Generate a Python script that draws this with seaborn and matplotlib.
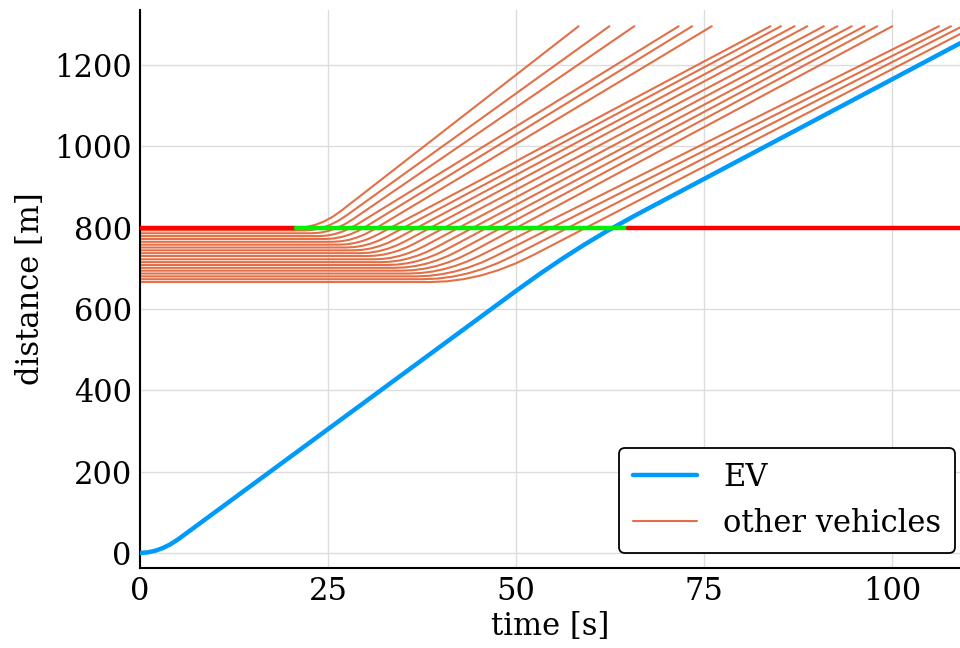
import numpy as np
import pandas as pd
import matplotlib
matplotlib.use("Agg")
import matplotlib.pyplot as plt
import seaborn as sns
from matplotlib.lines import Line2D

# ---------------- data ----------------
ev_time = [0, 1, 2, 3, 4, 5, 5.23, 50, 53, 56, 59, 62, 66, 109]
ev_dist = [0, 1.3, 5.2, 11.7, 20.8, 32.5, 35.6, 644.5, 684.2, 721.8, 757.3,
           790.6, 831.6, 1253.0]

veh_time = [
    [0, 21.00, 22.15, 23.30, 24.45, 25.60, 26.75, 58.3],
    [0, 21.92, 23.03, 24.14, 25.24, 26.35, 27.46, 62.4],
    [0, 22.84, 23.94, 25.04, 26.13, 27.23, 28.33, 65.7],
    [0, 23.76, 24.79, 25.82, 26.84, 27.87, 28.90, 71.6],
    [0, 24.68, 25.75, 26.82, 27.90, 28.97, 30.04, 73.4],
    [0, 25.61, 26.71, 27.81, 28.90, 30.00, 31.10, 76.0],
    [0, 26.53, 27.55, 28.56, 29.58, 30.59, 31.61, 83.8],
    [0, 27.45, 28.53, 29.60, 30.68, 31.75, 32.83, 85.2],
    [0, 28.37, 29.50, 30.64, 31.77, 32.91, 34.04, 87.0],
    [0, 29.29, 30.49, 31.69, 32.90, 34.10, 35.30, 88.7],
    [0, 30.21, 31.26, 32.32, 33.37, 34.42, 35.48, 36.53, 90.9],
    [0, 31.13, 32.26, 33.38, 34.51, 35.63, 36.76, 37.88, 92.7],
    [0, 32.05, 33.25, 34.46, 35.66, 36.86, 38.07, 39.27, 94.6],
    [0, 32.97, 34.27, 35.57, 36.86, 38.16, 39.46, 40.76, 96.3],
    [0, 33.89, 35.30, 36.71, 38.12, 39.52, 40.93, 42.34, 98.0],
    [0, 34.82, 36.35, 37.88, 39.42, 40.95, 42.48, 44.01, 100.0],
    [0, 35.74, 37.31, 38.87, 40.44, 42.01, 43.57, 45.14, 106.2],
    [0, 36.66, 38.41, 40.16, 41.91, 43.66, 45.41, 47.16, 107.8],
    [0, 37.58, 39.56, 41.55, 43.53, 45.51, 47.50, 49.48, 109.3],
    [0, 38.50, 40.78, 43.06, 45.35, 47.63, 49.91, 52.19, 111.0],
]
veh_dist = [
    [800, 800, 801.7, 806.6, 814.9, 826.4, 841.3, 1295],
    [793, 793, 794.5, 798.9, 806.3, 816.6, 829.9, 1295],
    [786, 786, 787.4, 791.6, 798.5, 808.3, 820.8, 1295],
    [779, 779, 780.2, 783.7, 789.5, 797.8, 808.3, 1295],
    [772, 772, 773.2, 776.9, 783.0, 791.5, 802.5, 1295],
    [765, 765, 766.2, 769.9, 776.0, 784.5, 795.5, 1295],
    [758, 758, 759.0, 762.0, 767.0, 773.9, 782.9, 1295],
    [751, 751, 752.1, 755.3, 760.6, 768.0, 777.6, 1295],
    [744, 744, 745.1, 748.5, 754.1, 761.9, 772.0, 1295],
    [737, 737, 738.2, 741.8, 747.7, 756.0, 766.7, 1295],
    [730, 730, 730.9, 733.4, 737.8, 743.8, 751.5, 761.0, 1295],
    [722, 722, 722.9, 725.7, 730.3, 736.8, 745.1, 755.2, 1295],
    [715, 715, 716.0, 718.9, 723.9, 730.8, 739.7, 750.5, 1295],
    [708, 708, 709.1, 712.3, 717.6, 725.1, 734.7, 746.5, 1295],
    [701, 701, 702.2, 705.7, 711.5, 719.6, 730.1, 742.9, 1295],
    [694, 694, 695.3, 699.1, 705.4, 714.3, 725.7, 739.6, 1295],
    [687, 687, 688.2, 691.8, 697.9, 706.3, 717.2, 730.5, 1295],
    [680, 680, 681.4, 685.4, 692.3, 701.8, 714.0, 729.0, 1295],
    [673, 673, 674.6, 679.3, 687.1, 698.0, 712.1, 729.3, 1295],
    [666, 666, 667.8, 673.3, 682.4, 695.2, 711.6, 731.6, 1295],
]

signal_pos = 800
red1_time = [0, 20.8]
green_time = [20.8, 64.9]
red2_time = [64.9, 112]

x_ticks = [0, 25, 50, 75, 100]
y_ticks = [0, 200, 400, 600, 800, 1000, 1200]

EV_COLOR = "#009AFA"
VEH_COLOR = "#E36F47"

# ---------------- build tables ----------------
ev_df = pd.DataFrame({"time": ev_time, "distance": ev_dist})
rows = []
for k, (ts, ds) in enumerate(zip(veh_time, veh_dist)):
    for t, d in zip(ts, ds):
        rows.append((k, t, d))
veh_df = pd.DataFrame(rows, columns=["vehicle", "time", "distance"])

# ---------------- plot ----------------
sns.set_style("white")
plt.rcParams["font.family"] = ["DejaVu Serif"]
plt.rcParams["mathtext.fontset"] = "dejavuserif"
for key in ["text.color", "axes.labelcolor", "xtick.color", "ytick.color"]:
    plt.rcParams[key] = "black"

fig = plt.figure(figsize=(9.6, 6.48), dpi=100)
ax = fig.add_axes([0.1458, 0.1235, 0.8542, 0.8611])

sns.lineplot(data=ev_df, x="time", y="distance", color=EV_COLOR, lw=3.2,
             ax=ax, estimator=None, sort=False, zorder=3)
sns.lineplot(data=veh_df, x="time", y="distance", units="vehicle",
             estimator=None, color=VEH_COLOR, lw=1.5, ax=ax, sort=False,
             zorder=2)
for seg, col in [(red1_time, "#FF0000"), (green_time, "#00F000"),
                 (red2_time, "#FF0000")]:
    sns.lineplot(x=seg, y=[signal_pos, signal_pos], color=col, lw=3.2,
                 ax=ax, estimator=None, sort=False, zorder=4)

ax.set_xlim(0, 109)
ax.set_ylim(-37, 1335)
ax.set_xticks(x_ticks)
ax.set_yticks(y_ticks)
ax.set_xlabel("time [s]", fontsize=22, labelpad=3)
ax.set_ylabel("distance [m]", fontsize=22, labelpad=6)
ax.tick_params(axis="both", direction="in", length=5, width=1.2,
               labelsize=22, colors="black", pad=6)
ax.grid(True, color="#DCDCDC", lw=1.0)
ax.set_axisbelow(True)
for side in ["top", "right"]:
    ax.spines[side].set_visible(False)
for side in ["left", "bottom"]:
    ax.spines[side].set_color("black")
    ax.spines[side].set_linewidth(1.5)

handles = [Line2D([], [], color=EV_COLOR, lw=3.2),
           Line2D([], [], color=VEH_COLOR, lw=1.5)]
leg = ax.legend(handles, ["EV", "other vehicles"], loc="lower right",
                fontsize=22, frameon=True, fancybox=True, framealpha=1,
                edgecolor="black", handlelength=2.1, handletextpad=0.85,
                borderpad=0.45, labelspacing=0.5, borderaxespad=0,
                bbox_to_anchor=(0.994, 0.027))
leg.get_frame().set_linewidth(1.3)

fig.savefig("out.png", dpi=100)
